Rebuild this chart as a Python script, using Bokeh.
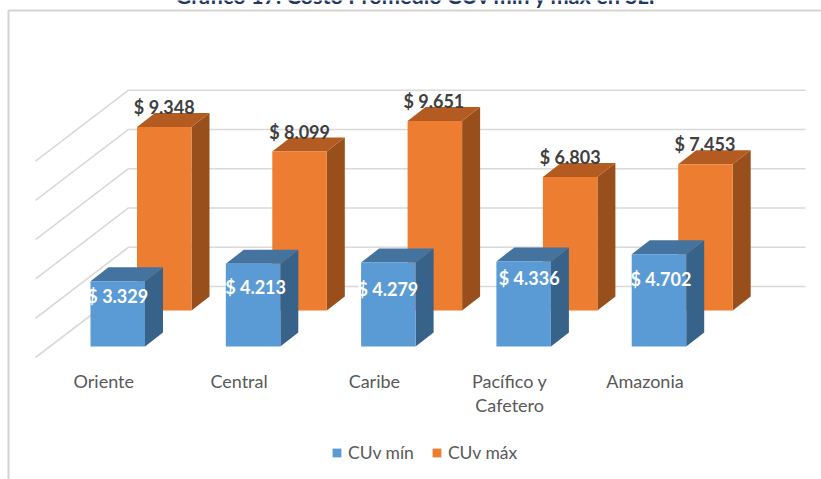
from bokeh.plotting import figure
from bokeh.embed import file_html
from bokeh.resources import INLINE
from bokeh.models import Legend, LegendItem, Range1d
from bokeh.core.properties import value

title = "Gráfico 17. Costo Promedio CUv mín y máx en SLP"
categories = ["Oriente", "Central", "Caribe", "Pacífico y\nCafetero", "Amazonia"]
cuv_min = [3329, 4213, 4279, 4336, 4702]
cuv_max = [9348, 8099, 9651, 6803, 7453]
grid_values = [0, 2000, 4000, 6000, 8000, 10000]
min_label_dx = [0, 2.5, -0.5, 5.5, 2]
min_label_dy = [14.5, 23.7, 26, 16.7, 25]
max_label_dx = [0, 0, -1, 0, -0.5]
FONT = "Lato"

W, H = 821, 479
STEP_PX = 135.3            # px per category
VAL_PX = 19.63 / 1000      # px per unit of value
BASE_X, BASE_Y = 117.25, 346.0  # centre of first front bar, baseline of front row


def dx(px):
    return px / STEP_PX


def dy(px):
    return px / VAL_PX


x_range = Range1d((0 - BASE_X) / STEP_PX, (W - BASE_X) / STEP_PX)
y_range = Range1d(-(H - BASE_Y) / VAL_PX, BASE_Y / VAL_PX)

p = figure(width=W, height=H, x_range=x_range, y_range=y_range, output_backend="svg",
           toolbar_location=None, min_border=0, outline_line_color=None, margin=0)
p.axis.visible = False
p.grid.visible = False

GRID = "#D9D9D9"
# chart frame
fx, fy = dx(8 - BASE_X), dy(BASE_Y - 10)
p.line([fx, fx, x_range.end], [y_range.start, fy, fy], line_color="#D4D4D4", line_width=2)

# side wall + back wall gridlines
wx0, wx1, wx2 = dx(35 - BASE_X), dx(128 - BASE_X), dx(805 - BASE_X)
for v in grid_values:
    p.line([wx0, wx1, wx2], [v - dy(11), v + dy(60), v + dy(60)], line_color=GRID, line_width=1.6)


def bars(values, off_x, off_y, front, top, side):
    bw, ddx, ddy = dx(54.5), dx(18), dy(14)
    r = None
    for i, v in enumerate(values):
        l = i + off_x - bw / 2
        rr = i + off_x + bw / 2
        b = off_y
        t = off_y + v
        p.patch([rr, rr + ddx, rr + ddx, rr], [b, b + ddy, t + ddy, t], fill_color=side, line_color=None)
        p.patch([l, l + ddx, rr + ddx, rr], [t, t + ddy, t + ddy, t], fill_color=top, line_color=None)
        q = p.quad(left=[l], right=[rr], bottom=[b], top=[t], fill_color=front, line_color=None)
        r = r or q
    return r


def labels(xs, ys, texts, color, size, bold=True):
    p.text(xs, ys, text=texts, text_color=color, text_font=value(FONT),
           text_font_size=size, text_font_style="bold" if bold else "normal",
           text_align="center", text_baseline="middle")


# back row
ox, oy = dx(46.5), dy(36)
r_max = bars(cuv_max, ox, oy, "#ED7D31", "#B35B20", "#984F1B")
labels([i + ox + dx(d) for i, d in enumerate(max_label_dx)],
       [v + oy + dy(19.7) for v in cuv_max],
       [f"$ {v:,}".replace(",", ".") for v in cuv_max], "#404040", "18px")

# front row
r_min = bars(cuv_min, 0, 0, "#5B9BD5", "#44739F", "#376289")
labels([i + dx(d) for i, d in enumerate(min_label_dx)],
       [v - dy(d) for v, d in zip(cuv_min, min_label_dy)],
       [f"$ {v:,}".replace(",", ".") for v in cuv_min], "#FFFFFF", "18px")

# category labels
p.text([i + dx(-14) for i in range(len(categories))], [dy(BASE_Y - 369.5)] * len(categories),
       text=categories, text_color="#595959", text_font=value(FONT), text_font_size="18px",
       text_align="center", text_baseline="top", text_line_height=1.09)

# title (cropped by the top of the picture in the reference)
p.text([dx(419 - BASE_X)], [dy(BASE_Y + 5)], text=[title], text_color="#1F3864",
       text_font=value(FONT), text_font_size="21.7px", text_font_style="bold",
       text_align="center", text_baseline="middle")

legend = Legend(items=[LegendItem(label="CUv mín", renderers=[r_min]),
                       LegendItem(label="CUv máx", renderers=[r_max])],
                orientation="horizontal", location=(331, 16),
                background_fill_alpha=0, border_line_color=None,
                glyph_width=11, glyph_height=11, label_standoff=6, spacing=17,
                padding=5, margin=0,
                label_text_font=FONT, label_text_font_size="17.5px", label_text_color="#595959")
p.add_layout(legend, "center")

open("out.html", "w").write(file_html(p, INLINE))
